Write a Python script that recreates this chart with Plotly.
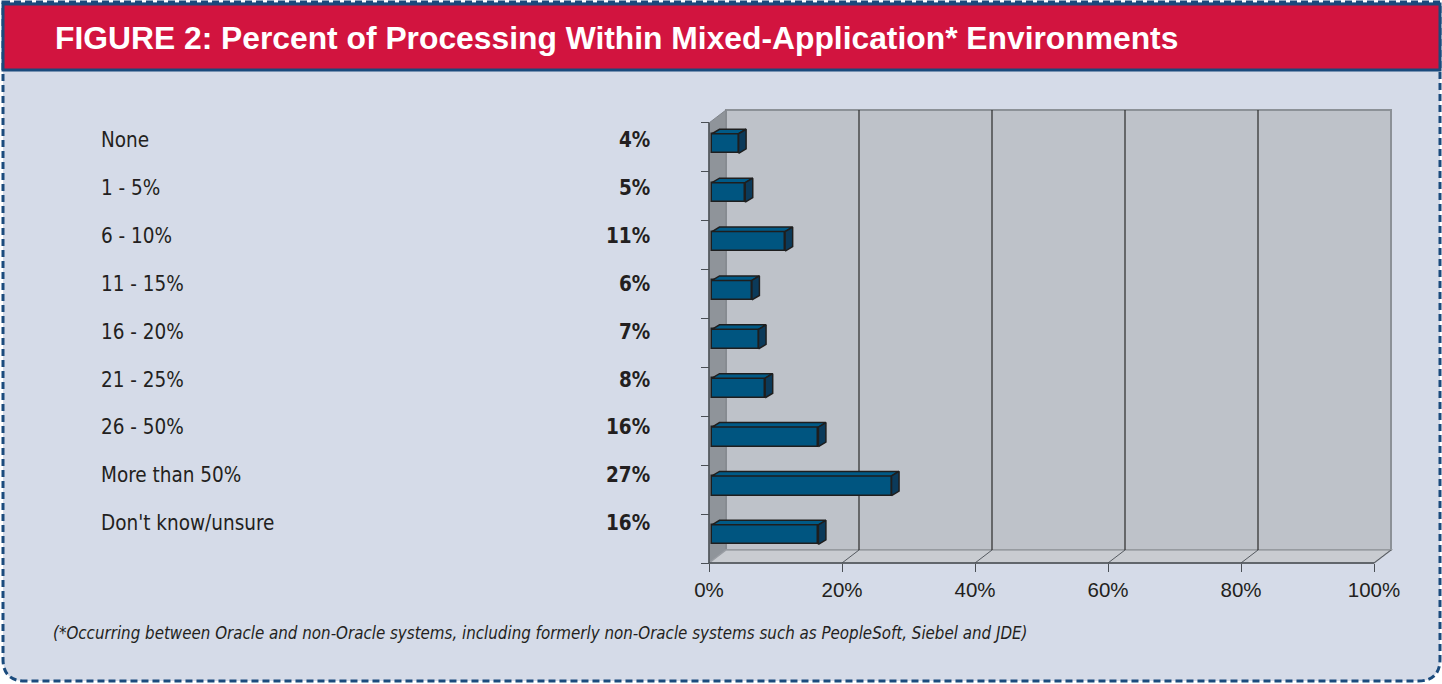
import plotly.graph_objects as go

# ---- data -------------------------------------------------------------
categories = [
    "None", "1 - 5%", "6 - 10%", "11 - 15%", "16 - 20%",
    "21 - 25%", "26 - 50%", "More than 50%", "Don't know/unsure",
]
percents = [4, 5, 11, 6, 7, 8, 16, 27, 16]
tick_values = [0, 20, 40, 60, 80, 100]
tick_labels = ["0%", "20%", "40%", "60%", "80%", "100%"]

title_text = "FIGURE 2: Percent of Processing Within Mixed-Application* Environments"
note_text = ("(*Occurring between Oracle and non-Oracle systems, including formerly "
             "non-Oracle systems such as PeopleSoft, Siebel and JDE)")

# ---- geometry ---------------------------------------------------------
W, H = 1442, 684
ORIGIN_X, ORIGIN_Y = 709, 563      # pixel position of (0%, floor)
PX_PER_PCT = 6.65                  # horizontal pixels per percent
PX_PER_ROW = 48.89                 # vertical pixels per category row
N = len(categories)

DEPTH_X = 17 / PX_PER_PCT          # depth of the 3-D box
DEPTH_Y = 13 / PX_PER_ROW
BAR_DX = 7.5 / PX_PER_PCT          # depth of each bar
BAR_DY = 4.5 / PX_PER_ROW
BAR_BASE = 3 / PX_PER_PCT
BAR_H = 0.40

TEXT = "#231F20"
NARROW = "Liberation Sans Narrow, Arial Narrow, DejaVu Sans Condensed, sans-serif"
SANS = "Liberation Sans, Arial, Helvetica, sans-serif"


def fx(px):
    return px / W


def fy(py):
    return 1 - py / H


row_y = [N - 1 - i + 0.58 for i in range(N)]

fig = go.Figure()

# front faces of the bars
fig.add_trace(go.Bar(
    orientation="h", y=row_y, x=percents, base=BAR_BASE, width=BAR_H,
    marker=dict(color="#005580", line=dict(color="#1E1E1E", width=1.5)),
    hoverinfo="skip", showlegend=False,
))

# top and side faces of the bars
top_x, top_y, side_x, side_y = [], [], [], []
for yc, v in zip(row_y, percents):
    lo, hi = yc - BAR_H / 2, yc + BAR_H / 2
    end = BAR_BASE + v
    top_x += [BAR_BASE, end, end + BAR_DX, BAR_BASE + BAR_DX, BAR_BASE, None]
    top_y += [hi, hi, hi + BAR_DY, hi + BAR_DY, hi, None]
    side_x += [end, end + BAR_DX, end + BAR_DX, end, end, None]
    side_y += [lo, lo + BAR_DY, hi + BAR_DY, hi, lo, None]

fig.add_trace(go.Scatter(
    x=top_x, y=top_y, mode="lines", fill="toself", fillcolor="#005A87",
    line=dict(color="#1E1E1E", width=1.5), hoverinfo="skip", showlegend=False,
))
fig.add_trace(go.Scatter(
    x=side_x, y=side_y, mode="lines", fill="toself", fillcolor="#0B3A5A",
    line=dict(color="#1E1E1E", width=1.5), hoverinfo="skip", showlegend=False,
))

# ---- frame, panel and chart box --------------------------------------
shapes = []
r = 22
panel = (
    f"M {fx(3)},{fy(2)} L {fx(1440)},{fy(2)} L {fx(1440)},{fy(681 - r)} "
    f"Q {fx(1440)},{fy(681)} {fx(1440 - r)},{fy(681)} L {fx(3 + r)},{fy(681)} "
    f"Q {fx(3)},{fy(681)} {fx(3)},{fy(681 - r)} Z"
)
shapes.append(dict(type="path", path=panel, xref="paper", yref="paper",
                   fillcolor="#D5DBE8", line=dict(color="#1B4B7D", width=3, dash="7px,4px"),
                   layer="below"))
shapes.append(dict(type="rect", xref="paper", yref="paper",
                   x0=fx(3), x1=fx(1440), y0=fy(70), y1=fy(4),
                   fillcolor="#D2143F", line=dict(color="#1A4A7C", width=3), layer="below"))

# back wall
shapes.append(dict(type="rect", xref="x", yref="y",
                   x0=DEPTH_X, x1=100 + DEPTH_X, y0=DEPTH_Y, y1=N + DEPTH_Y,
                   fillcolor="#BEC2C9", line=dict(color="#8C9197", width=2), layer="below"))
# left wall
shapes.append(dict(type="path", xref="x", yref="y",
                   path=f"M 0,0 L {DEPTH_X},{DEPTH_Y} L {DEPTH_X},{N + DEPTH_Y} L 0,{N} Z",
                   fillcolor="#8F949A", line=dict(color="#80858B", width=1), layer="below"))
# floor
shapes.append(dict(type="path", xref="x", yref="y",
                   path=f"M 0,0 L 100,0 L {100 + DEPTH_X},{DEPTH_Y} L {DEPTH_X},{DEPTH_Y} Z",
                   fillcolor="#C9CCD1", line=dict(color="#9A9EA4", width=1.5), layer="below"))
# gridlines on the back wall and floor
for v in tick_values[1:-1]:
    shapes.append(dict(type="line", xref="x", yref="y",
                       x0=v + DEPTH_X, x1=v + DEPTH_X, y0=DEPTH_Y, y1=N + DEPTH_Y,
                       line=dict(color="#2A2A2A", width=1.2), layer="below"))
for v in tick_values[1:]:
    shapes.append(dict(type="line", xref="x", yref="y",
                       x0=v, x1=v + DEPTH_X, y0=0, y1=DEPTH_Y,
                       line=dict(color="#555A60", width=1), layer="below"))
# front axis edges
shapes.append(dict(type="line", xref="x", yref="y", x0=0, x1=100, y0=0, y1=0,
                   line=dict(color="#4A4F55", width=1.5), layer="below"))
shapes.append(dict(type="line", xref="x", yref="y", x0=0, x1=0, y0=0, y1=N,
                   line=dict(color="#4A4F55", width=1.5), layer="below"))

# ---- text ---------------------------------------------------------------
annotations = [
    dict(text=f"<b>{title_text}</b>", x=fx(53), y=fy(38), xref="paper", yref="paper",
         xanchor="left", yanchor="middle", showarrow=False,
         font=dict(family=SANS, size=31.8, color="white")),
    dict(text=f"<i>{note_text}</i>", x=fx(51), y=fy(633), xref="paper", yref="paper",
         xanchor="left", yanchor="middle", showarrow=False,
         font=dict(family=NARROW, size=16.8, color=TEXT)),
]
for i, (cat, v) in enumerate(zip(categories, percents)):
    ypos = fy(140 + 47.9 * i)
    annotations.append(dict(text=cat, x=fx(99), y=ypos, xref="paper", yref="paper",
                            xanchor="left", yanchor="middle", showarrow=False,
                            font=dict(family=NARROW, size=20.5, color=TEXT)))
    annotations.append(dict(text=f"<b>{v}%</b>", x=fx(652), y=ypos, xref="paper", yref="paper",
                            xanchor="right", yanchor="middle", showarrow=False,
                            font=dict(family=NARROW, size=20.5, color=TEXT)))

fig.update_layout(
    width=W, height=H, margin=dict(l=0, r=0, t=0, b=0),
    paper_bgcolor="white", plot_bgcolor="rgba(0,0,0,0)",
    shapes=shapes, annotations=annotations, showlegend=False, bargap=0,
    xaxis=dict(domain=[0, 1], range=[-ORIGIN_X / PX_PER_PCT, (W - ORIGIN_X) / PX_PER_PCT],
               anchor="free", position=1 - ORIGIN_Y / H,
               tickvals=tick_values, ticktext=tick_labels, ticks="outside", ticklen=8,
               tickcolor="#4A4F55", tickwidth=1.2, showgrid=False, zeroline=False,
               showline=False, fixedrange=True,
               tickfont=dict(family=SANS, size=20.5, color=TEXT)),
    yaxis=dict(domain=[0, 1], range=[-(H - ORIGIN_Y) / PX_PER_ROW, ORIGIN_Y / PX_PER_ROW],
               anchor="free", position=ORIGIN_X / W,
               tickvals=list(range(N + 1)), ticks="outside", ticklen=8,
               tickcolor="#4A4F55", tickwidth=1.2, showticklabels=False,
               showgrid=False, zeroline=False, showline=False, fixedrange=True),
)

fig.write_html("out.html")
